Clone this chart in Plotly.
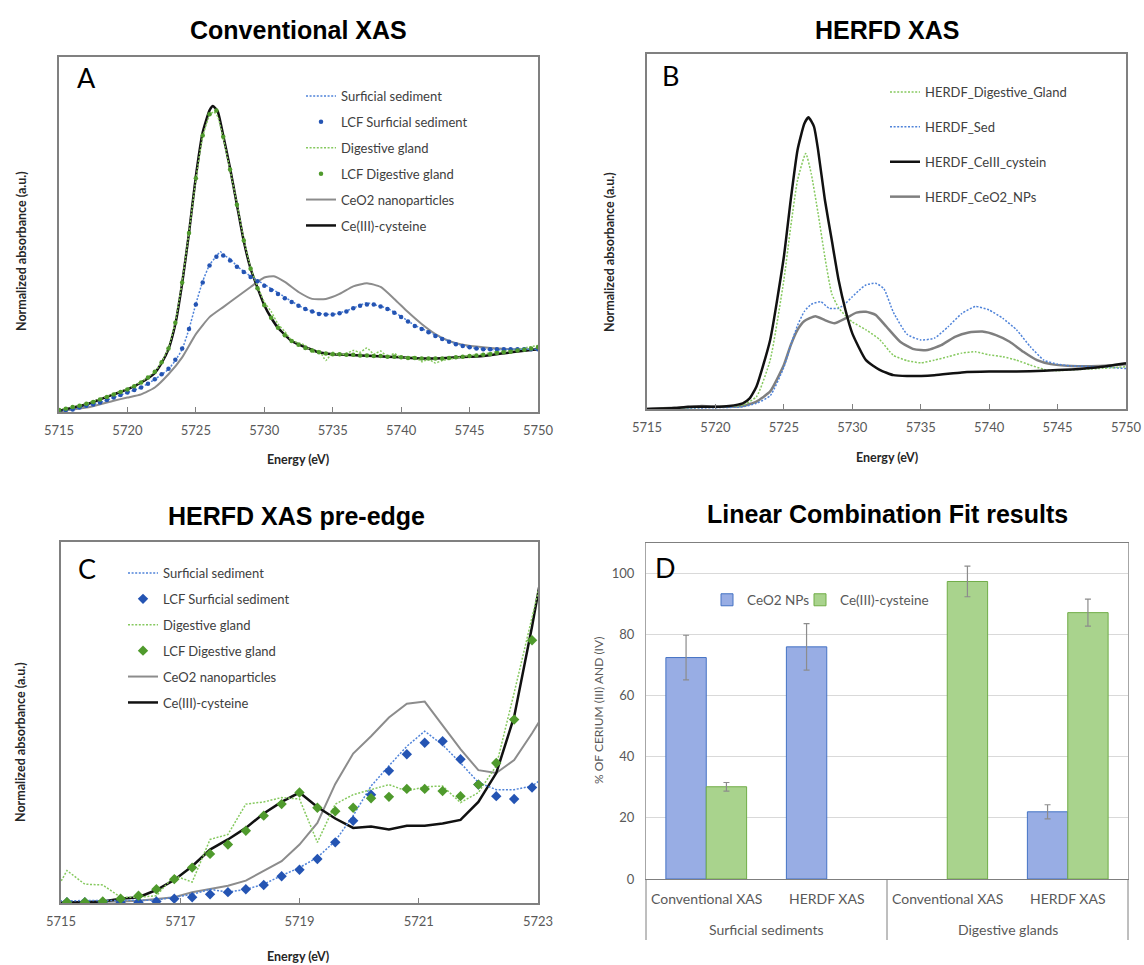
import plotly.graph_objects as go

W, H = 1144, 965


def px(x):
    return x / W


def py(y):
    return 1 - y / H


# ---------------- Panel A : Conventional XAS ----------------
a_sed_e = [5715, 5716, 5717, 5718, 5719, 5720, 5721, 5722, 5723, 5723.5, 5724, 5724.5, 5725, 5725.5, 5726,
           5726.5, 5726.8, 5727, 5727.5, 5728, 5729, 5730, 5731, 5732, 5733, 5734, 5735, 5736, 5737, 5737.5,
           5738, 5739, 5740, 5741, 5742, 5743, 5744, 5745, 5746, 5747, 5748, 5749, 5750]
a_sed_y = [0.02, 0.04, 0.10, 0.15, 0.23, 0.31, 0.39, 0.52, 0.68, 0.82, 1.00, 1.32, 1.72, 2.08, 2.34,
           2.48, 2.55, 2.50, 2.44, 2.32, 2.16, 2.03, 1.90, 1.76, 1.64, 1.57, 1.55, 1.61, 1.70, 1.74,
           1.71, 1.65, 1.52, 1.38, 1.28, 1.17, 1.09, 1.03, 1.00, 0.99, 1.00, 1.00, 1.00]

a_dig_e = [5715, 5716, 5717, 5718, 5719, 5720, 5721, 5722, 5722.5, 5723, 5723.5, 5724, 5724.5, 5725, 5725.5,
           5726, 5726.3, 5726.6, 5727, 5727.5, 5728, 5728.5, 5729, 5729.5, 5730, 5730.5, 5731, 5731.5,
           5732, 5733, 5733.5, 5734, 5734.5, 5735, 5735.5, 5736, 5736.5, 5737, 5737.5, 5738, 5738.5,
           5739, 5739.5, 5740, 5741, 5741.5, 5742, 5742.5, 5743, 5744, 5745, 5746, 5747, 5748, 5749, 5750]
a_dig_y = [0.04, 0.08, 0.13, 0.21, 0.29, 0.37, 0.48, 0.64, 0.80, 1.02, 1.43, 2.08, 2.86, 3.70, 4.38,
           4.72, 4.78, 4.70, 4.36, 3.85, 3.32, 2.75, 2.30, 2.00, 1.75, 1.60, 1.40, 1.28,
           1.14, 1.06, 0.95, 0.98, 0.82, 0.95, 0.90, 0.93, 0.98, 0.95, 1.02, 0.92, 0.97,
           0.88, 0.93, 0.86, 0.88, 0.80, 0.84, 0.78, 0.82, 0.86, 0.90, 0.92, 0.96, 0.98, 1.02, 1.06]

a_ceo2_e = [5715, 5717, 5719, 5720, 5721, 5722, 5723, 5724, 5725, 5726, 5727, 5728, 5729, 5730, 5730.7,
            5731.5, 5732.5, 5733.5, 5734.5, 5735.5, 5736.5, 5737.5, 5738.5, 5739.5, 5740.5, 5741.5,
            5742.5, 5743.5, 5744.5, 5746, 5748, 5750]
a_ceo2_y = [0.01, 0.07, 0.18, 0.23, 0.28, 0.39, 0.60, 0.87, 1.24, 1.51, 1.67, 1.83, 1.99, 2.14, 2.16,
            2.07, 1.91, 1.80, 1.80, 1.88, 2.00, 2.05, 1.99, 1.80, 1.59, 1.40,
            1.24, 1.13, 1.07, 1.03, 1.00, 1.00]

a_ce3_e = [5715, 5716, 5717, 5718, 5719, 5720, 5721, 5722, 5722.5, 5723, 5723.5, 5724, 5724.5, 5725, 5725.5,
           5726, 5726.25, 5726.6, 5727, 5727.5, 5728, 5728.5, 5729, 5729.5, 5730, 5730.5, 5731, 5732,
           5733, 5734, 5735, 5736, 5738, 5740, 5742, 5744, 5746, 5748, 5750]
a_ce3_y = [0.02, 0.07, 0.12, 0.20, 0.28, 0.36, 0.47, 0.62, 0.78, 1.00, 1.40, 2.05, 2.85, 3.75, 4.45,
           4.80, 4.87, 4.78, 4.40, 3.88, 3.30, 2.72, 2.28, 1.98, 1.70, 1.50, 1.34, 1.13,
           1.03, 0.95, 0.92, 0.91, 0.89, 0.87, 0.85, 0.87, 0.89, 0.95, 1.00]

lcf_e = [5715.0, 5715.5, 5716.0, 5716.5, 5717.0, 5717.5, 5718.0, 5718.5, 5719.0, 5719.5,
         5720.0, 5720.5, 5721.0, 5721.5, 5722.0, 5722.5, 5723.0, 5723.5, 5724.0, 5724.5,
         5725.0, 5725.5, 5726.0, 5726.5, 5727.0, 5727.5, 5728.0, 5728.5, 5729.0, 5729.5,
         5730.0, 5730.5, 5731.0, 5731.5, 5732.0, 5732.5, 5733.0, 5733.5, 5734.0, 5734.5,
         5735.0, 5735.5, 5736.0, 5736.5, 5737.0, 5737.5, 5738.0, 5738.5, 5739.0, 5739.5,
         5740.0, 5740.5, 5741.0, 5741.5, 5742.0, 5742.5, 5743.0, 5743.5, 5744.0, 5744.5,
         5745.0, 5745.5, 5746.0, 5746.5, 5747.0, 5747.5, 5748.0, 5748.5, 5749.0, 5749.5, 5750.0]
lcf_sed_y = [0.02, 0.03, 0.04, 0.07, 0.10, 0.12, 0.15, 0.19, 0.23, 0.27,
             0.31, 0.35, 0.39, 0.45, 0.52, 0.60, 0.69, 0.83, 1.01, 1.32,
             1.71, 2.06, 2.33, 2.47, 2.49, 2.41, 2.31, 2.23, 2.15, 2.08,
             2.01, 1.94, 1.88, 1.81, 1.75, 1.69, 1.64, 1.60, 1.56, 1.55,
             1.55, 1.57, 1.60, 1.65, 1.69, 1.71, 1.71, 1.68, 1.64, 1.58,
             1.51, 1.44, 1.37, 1.32, 1.27, 1.21, 1.16, 1.12, 1.08, 1.05,
             1.03, 1.01, 1.00, 1.00, 1.00, 1.00, 1.00, 1.00, 1.00, 1.00, 1.00]
lcf_dig_y = [0.03, 0.05, 0.08, 0.10, 0.13, 0.16, 0.20, 0.24, 0.28, 0.32,
             0.36, 0.41, 0.47, 0.55, 0.64, 0.79, 1.01, 1.42, 2.06, 2.85,
             3.72, 4.40, 4.74, 4.80, 4.38, 3.86, 3.30, 2.73, 2.28, 1.97,
             1.70, 1.50, 1.34, 1.22, 1.13, 1.07, 1.02, 0.98, 0.95, 0.93,
             0.92, 0.92, 0.91, 0.91, 0.90, 0.90, 0.89, 0.89, 0.88, 0.88,
             0.87, 0.86, 0.86, 0.85, 0.85, 0.85, 0.85, 0.86, 0.87, 0.88,
             0.89, 0.90, 0.91, 0.92, 0.94, 0.95, 0.96, 0.98, 0.99, 1.01, 1.03]

# ---------------- Panel B : HERFD XAS ----------------
b_dig_e = [5715, 5718, 5720, 5722, 5723, 5724, 5725, 5725.5, 5726, 5726.6, 5727, 5727.5, 5728, 5728.5, 5729,
           5729.5, 5730, 5731, 5732, 5733, 5734, 5735, 5736, 5737, 5738, 5739, 5740, 5741, 5742, 5743,
           5744, 5745, 5746, 5748, 5750]
b_dig_y = [0, 0.03, 0.05, 0.09, 0.28, 1.11, 2.93, 4.14, 5.20, 5.81, 5.35, 4.45, 3.45, 2.62, 2.30,
           2.12, 1.98, 1.80, 1.58, 1.22, 1.10, 1.05, 1.11, 1.19, 1.27, 1.30, 1.23, 1.19, 1.11, 1.00,
           0.90, 0.87, 0.89, 0.92, 0.96]

b_sed_e = [5715, 5720, 5722, 5723, 5724, 5725, 5725.5, 5726, 5726.5, 5727, 5727.7, 5728.3, 5729, 5729.5,
           5730, 5730.5, 5731, 5731.7, 5732.3, 5733, 5734, 5735, 5736, 5737, 5738, 5739, 5740, 5741,
           5742, 5743, 5744, 5745, 5746, 5748, 5750]
b_sed_y = [0, 0.03, 0.05, 0.13, 0.30, 0.95, 1.45, 1.90, 2.22, 2.38, 2.44, 2.29, 2.29, 2.40,
           2.55, 2.70, 2.82, 2.86, 2.74, 2.20, 1.70, 1.57, 1.61, 1.87, 2.17, 2.33, 2.25, 2.06,
           1.80, 1.42, 1.11, 1.02, 0.98, 0.96, 0.92]

b_ce3_e = [5715, 5717, 5718, 5719, 5720, 5721, 5722, 5722.5, 5723, 5724, 5725, 5725.5, 5726, 5726.5, 5726.8,
           5727.2, 5727.5, 5728, 5728.5, 5729, 5729.5, 5730, 5731, 5732, 5733, 5734, 5736, 5738, 5740,
           5742, 5744, 5746, 5748, 5750]
b_ce3_y = [0, 0.02, 0.05, 0.05, 0.05, 0.07, 0.13, 0.24, 0.51, 1.57, 3.46, 4.75, 5.89, 6.49, 6.63,
           6.42, 5.89, 4.75, 3.84, 2.93, 2.25, 1.72, 1.11, 0.89, 0.77, 0.75, 0.77, 0.83, 0.85,
           0.85, 0.87, 0.90, 0.95, 1.04]

b_ceo2_e = [5715, 5718, 5719, 5720, 5722, 5723, 5724, 5725, 5725.5, 5726, 5726.5, 5727.3, 5728, 5728.7,
            5729.5, 5730.3, 5731, 5731.7, 5732.5, 5733.5, 5734.5, 5735.5, 5736.5, 5737.5, 5738.5, 5739.5,
            5740.5, 5741.5, 5742.5, 5743.5, 5744.5, 5746, 5748, 5750]
b_ceo2_y = [0, 0.04, 0.07, 0.05, 0.07, 0.17, 0.40, 1.00, 1.45, 1.80, 2.00, 2.11, 2.02, 1.95,
            2.06, 2.19, 2.21, 2.14, 1.87, 1.53, 1.36, 1.34, 1.45, 1.64, 1.74, 1.76,
            1.68, 1.53, 1.30, 1.11, 1.02, 0.98, 0.98, 1.02]

# ---------------- Panel C : HERFD XAS pre-edge ----------------
c_e = [5714.8, 5715.1, 5715.4, 5715.7, 5716.0, 5716.3, 5716.6, 5716.9, 5717.2, 5717.5, 5717.8, 5718.1,
       5718.4, 5718.7, 5719.0, 5719.3, 5719.6, 5719.9, 5720.2, 5720.5, 5720.8, 5721.1, 5721.4, 5721.7,
       5722.0, 5722.3, 5722.6, 5722.9, 5723.2]
c_sed_y = [0.003, 0.003, 0.003, 0.003, 0.003, 0.003, 0.004, 0.008, 0.012, 0.019, 0.015, 0.019,
           0.026, 0.038, 0.049, 0.063, 0.086, 0.121, 0.162, 0.190, 0.217, 0.238, 0.219, 0.194,
           0.167, 0.157, 0.157, 0.162, 0.180]
c_lcf_sed_y = [None, 0.001, 0.001, 0.001, 0.001, 0.001, 0.002, 0.006, 0.008, 0.012, 0.015, 0.019,
               0.025, 0.037, 0.046, 0.061, 0.084, 0.114, 0.150, 0.183, 0.206, 0.222, 0.224, 0.199,
               0.164, 0.148, 0.144, 0.160, None]
c_dig_y = [0.000, 0.045, 0.026, 0.025, 0.008, 0.008, 0.010, 0.038, 0.029, 0.088, 0.095, 0.137,
           0.140, 0.146, 0.144, 0.084, 0.137, 0.150, 0.157, 0.164, 0.155, 0.161, 0.162, 0.139,
           0.153, 0.190, 0.291, 0.397, 0.50]
c_lcf_dig_y = [None, 0.001, 0.001, 0.002, 0.006, 0.010, 0.019, 0.033, 0.049, 0.068, 0.081, 0.100,
               0.121, 0.137, 0.153, 0.132, 0.127, 0.132, 0.145, 0.147, 0.158, 0.158, 0.155, 0.148,
               0.164, 0.194, 0.254, 0.364, None]
c_ceo2_y = [0.001, 0.001, 0.001, 0.002, 0.002, 0.003, 0.005, 0.008, 0.015, 0.019, 0.024, 0.031,
            0.045, 0.058, 0.081, 0.111, 0.165, 0.207, 0.231, 0.257, 0.276, 0.279, 0.246, 0.213,
            0.184, 0.180, 0.198, 0.235, 0.275]
c_ce3_y = [0.000, 0.001, 0.001, 0.002, 0.006, 0.008, 0.018, 0.032, 0.051, 0.074, 0.088, 0.104,
           0.124, 0.140, 0.153, 0.133, 0.117, 0.104, 0.106, 0.102, 0.107, 0.107, 0.110, 0.115,
           0.140, 0.180, 0.258, 0.383, 0.52]

# ---------------- Panel D : Linear Combination Fit results ----------------
d_groups = ["Surficial sediments", "Surficial sediments", "Digestive glands", "Digestive glands"]
d_methods = ["Conventional XAS", "HERDF XAS", "Conventional XAS", "HERDF XAS"]
d_ceo2 = [72.5, 76.0, None, 22.0]
d_ceo2_err = [7.3, 7.6, None, 2.3]
d_ce3 = [30.2, None, 97.4, 87.2]
d_ce3_err = [1.4, None, 5.0, 4.4]

# ---------------- styling ----------------
FONT = "Lato, 'Open Sans', sans-serif"
TFONT = "'Liberation Sans', Arial, sans-serif"
SED_LINE = '#4f83d9'
SED_MK = '#2454b3'
DIG_LINE = '#86c95f'
DIG_MK = '#4f9a2c'
CEO2 = '#8c8c8c'
CE3 = '#111111'
DOT = '2px,1.6px'

fig = go.Figure()


def add_line(x, y, name, color, width, dash, n, leg, rank, smooth=True):
    fig.add_trace(go.Scatter(
        x=x, y=y, name=name, mode='lines',
        line=dict(color=color, width=width, dash=dash,
                  shape='spline' if smooth else 'linear', smoothing=0.5),
        xaxis='x' + n, yaxis='y' + n, legend=leg, legendgroup=leg + name,
        legendrank=rank, connectgaps=False))


def add_marks(x, y, name, color, size, symbol, n, leg, rank):
    fig.add_trace(go.Scatter(
        x=x, y=y, name=name, mode='markers',
        marker=dict(color=color, size=size, symbol=symbol, line=dict(width=0)),
        xaxis='x' + n, yaxis='y' + n, legend=leg, legendgroup=leg + name,
        legendrank=rank))


# Panel A
add_line(a_ceo2_e, a_ceo2_y, 'CeO2 nanoparticles', CEO2, 2, 'solid', '', 'legend', 5)
add_line(a_ce3_e, a_ce3_y, 'Ce(III)-cysteine', CE3, 2.5, 'solid', '', 'legend', 6)
add_line(a_sed_e, a_sed_y, 'Surficial sediment', SED_LINE, 1.5, DOT, '', 'legend', 1)
add_line(a_dig_e, a_dig_y, 'Digestive gland', DIG_LINE, 1.5, DOT, '', 'legend', 3)
add_marks(lcf_e, lcf_sed_y, 'LCF Surficial sediment', SED_MK, 4.5, 'circle', '', 'legend', 2)
add_marks(lcf_e, lcf_dig_y, 'LCF Digestive gland', DIG_MK, 4.5, 'circle', '', 'legend', 4)

# Panel B
add_line(b_ceo2_e, b_ceo2_y, 'HERDF_CeO2_NPs', '#7f7f7f', 2.5, 'solid', '2', 'legend2', 4)
add_line(b_sed_e, b_sed_y, 'HERDF_Sed', SED_LINE, 1.5, DOT, '2', 'legend2', 2)
add_line(b_dig_e, b_dig_y, 'HERDF_Digestive_Gland', DIG_LINE, 1.5, DOT, '2', 'legend2', 1)
add_line(b_ce3_e, b_ce3_y, 'HERDF_CeIII_cystein', CE3, 2.5, 'solid', '2', 'legend2', 3)

# Panel C
add_line(c_e, c_ceo2_y, 'CeO2 nanoparticles', CEO2, 2, 'solid', '3', 'legend3', 5, smooth=False)
add_line(c_e, c_ce3_y, 'Ce(III)-cysteine', CE3, 2.5, 'solid', '3', 'legend3', 6, smooth=False)
add_line(c_e, c_sed_y, 'Surficial sediment', SED_LINE, 1.5, DOT, '3', 'legend3', 1, smooth=False)
add_line(c_e, c_dig_y, 'Digestive gland', DIG_LINE, 1.5, DOT, '3', 'legend3', 3, smooth=False)
add_marks(c_e, c_lcf_sed_y, 'LCF Surficial sediment', SED_MK, 8, 'diamond', '3', 'legend3', 2)
add_marks(c_e, c_lcf_dig_y, 'LCF Digestive gland', DIG_MK, 8, 'diamond', '3', 'legend3', 4)

# Panel D
fig.add_trace(go.Bar(
    x=[d_groups, d_methods], y=d_ceo2, name='CeO2 NPs',
    marker=dict(color='#98ade4', line=dict(color='#4472c4', width=1)),
    error_y=dict(type='data', array=d_ceo2_err, color='#8c8c8c', thickness=1.2, width=3),
    xaxis='x4', yaxis='y4', legend='legend4'))
fig.add_trace(go.Bar(
    x=[d_groups, d_methods], y=d_ce3, name='Ce(III)-cysteine',
    marker=dict(color='#a9d38d', line=dict(color='#70ad47', width=1)),
    error_y=dict(type='data', array=d_ce3_err, color='#8c8c8c', thickness=1.2, width=3),
    xaxis='x4', yaxis='y4', legend='legend5'))

TICKF = dict(family=FONT, size=13, color='#595959')


def spec_x(dom, anchor, rng, dtick):
    return dict(domain=dom, anchor=anchor, range=rng, dtick=dtick, tick0=rng[0],
                ticks='inside', ticklen=5, tickcolor='#808080', tickwidth=1,
                showline=True, linecolor='#808080', linewidth=1.5, mirror=True,
                showgrid=False, zeroline=False, tickfont=TICKF, ticklabelstandoff=6,
                automargin=False)


def spec_y(dom, anchor, rng):
    return dict(domain=dom, anchor=anchor, range=rng, showticklabels=False, ticks='',
                showline=True, linecolor='#808080', linewidth=1.5, mirror=True,
                showgrid=False, zeroline=False, automargin=False)


leg_common = dict(bgcolor='rgba(0,0,0,0)', borderwidth=0, xanchor='left', yanchor='top',
                  traceorder='grouped', font=dict(family=FONT, size=13, color='#404040'))
leg_d = dict(bgcolor='rgba(0,0,0,0)', orientation='h', xanchor='left', yanchor='middle',
             y=py(600), font=dict(family=FONT, size=13.5, color='#595959'))

annotations = []
shapes = []


def txt(x, y, s, size, bold=False, angle=0, family=FONT, color='#262626'):
    annotations.append(dict(
        x=px(x), y=py(y), xref='paper', yref='paper', showarrow=False,
        text='<b>%s</b>' % s if bold else s, textangle=angle,
        xanchor='center', yanchor='middle',
        font=dict(family=family, size=size, color=color)))


# titles
txt(298, 30, 'Conventional XAS', 25, True, family=TFONT, color='#000000')
txt(887, 30, 'HERFD XAS', 25, True, family=TFONT, color='#000000')
txt(296, 516, 'HERFD XAS pre-edge', 25, True, family=TFONT, color='#000000')
txt(887, 514, 'Linear Combination Fit results', 25, True, family=TFONT, color='#000000')
# panel letters
txt(86, 77, 'A', 27, color='#000000')
txt(670, 75, 'B', 27, color='#000000')
txt(87, 568, 'C', 27, color='#000000')
txt(665, 567, 'D', 27, color='#000000')
# axis titles
txt(298, 459, 'Energy (eV)', 12.5, True)
txt(887, 457, 'Energy (eV)', 12.5, True)
txt(298, 956, 'Energy (eV)', 12.5, True)
txt(21, 251, 'Normalized absorbance (a.u.)', 12.5, True, -90)
txt(609, 252, 'Normalized absorbance (a.u.)', 12.5, True, -90)
txt(20, 742, 'Normalized absorbance (a.u.)', 12.5, True, -90)
txt(598, 711, '% OF CERIUM (III) AND (IV)', 12, False, -90, color='#595959')

# Panel D two-level category labels (inner: method, outer: sample group)
D_L, D_R = 646, 1128
n_cat = len(d_methods)
cat_w = (D_R - D_L) / n_cat
for i, m in enumerate(d_methods):
    txt(D_L + (i + 0.5) * cat_w, 898, m, 14, color='#595959')
group_names = []
for g in d_groups:
    if g not in group_names:
        group_names.append(g)
per_group = n_cat // len(group_names)
for j, g in enumerate(group_names):
    txt(D_L + (j + 0.5) * per_group * cat_w, 929, g, 14, color='#595959')
for j in range(len(group_names) + 1):
    xd = D_L + j * per_group * cat_w
    shapes.append(dict(type='line', xref='paper', yref='paper',
                       x0=px(xd), x1=px(xd), y0=py(879), y1=py(940),
                       line=dict(color='#7f7f7f', width=1)))

fig.update_layout(
    width=W, height=H, margin=dict(l=0, r=0, t=0, b=0, autoexpand=False),
    paper_bgcolor='white', plot_bgcolor='white',
    font=dict(family=FONT, color='#404040'),
    showlegend=True,
    barmode='group', bargap=0.33, bargroupgap=0,
    xaxis=spec_x([px(59), px(538)], 'y', [5715, 5750], 5),
    yaxis=spec_y([py(412), py(57)], 'x', [0, 5.65]),
    xaxis2=spec_x([px(647), px(1126)], 'y2', [5715, 5750], 5),
    yaxis2=spec_y([py(409), py(54)], 'x2', [0, 8.07]),
    xaxis3=spec_x([px(61), px(538)], 'y3', [5715, 5723], 2),
    yaxis3=spec_y([py(903), py(542)], 'x3', [0, 0.5]),
    xaxis4=dict(domain=[px(D_L), px(D_R)], anchor='y4', type='multicategory',
                showline=True, linecolor='#7f7f7f', linewidth=1.2, mirror=True,
                ticks='', showdividers=False, showticklabels=False,
                automargin=False, showgrid=False),
    yaxis4=dict(domain=[py(879), py(543)], anchor='x4', range=[0, 110], dtick=20, tick0=0,
                showgrid=True, gridcolor='#d9d9d9', gridwidth=1, showline=True,
                linecolor='#a6a6a6', linewidth=1, mirror=True, zeroline=False, ticks='',
                tickfont=TICKF, ticklabelstandoff=8, automargin=False),
    legend=dict(**leg_common, x=px(301), y=py(81), tracegroupgap=6),
    legend2=dict(**leg_common, x=px(885), y=py(77), tracegroupgap=15),
    legend3=dict(**leg_common, x=px(123), y=py(558), tracegroupgap=6),
    legend4=dict(**leg_d, x=px(707)),
    legend5=dict(**leg_d, x=px(800)),
    annotations=annotations,
    shapes=shapes,
)

fig.write_html(
    "out.html",
    config={'displayModeBar': False},
    post_script="document.body.style.margin='0px';document.body.style.padding='0px';"
                "document.body.style.overflow='hidden';")
